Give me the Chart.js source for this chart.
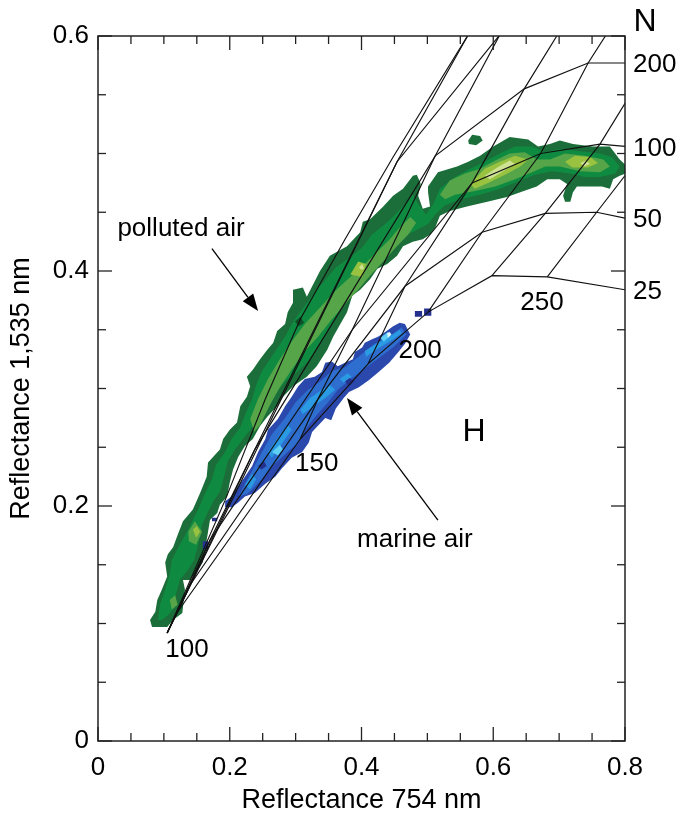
<!DOCTYPE html>
<html><head><meta charset="utf-8">
<script src="https://cdn.jsdelivr.net/npm/chart.js@4/dist/chart.umd.min.js"></script>
<style>html,body{margin:0;padding:0;background:#fff;}#wrap{width:678px;height:814px;}</style>
</head><body><div id="wrap"><canvas id="c" width="678" height="814"></canvas></div>
<script>
// ---------- axis ticks ----------
const xTicks = [0, 0.2, 0.4, 0.6, 0.8];
const yTicks = [0, 0.2, 0.4, 0.6];
const minorStep = 0.05;

// ---------- nomogram: constant-N curves ----------
const nNames = ['25', '50', '100', '200'];
const curveN25  = [[.105,.092],[.121,.110],[.307,.257],[.410,.321],[.501,.365],[.598,.396],[.682,.395],[.800,.384]];
const curveN50  = [[.105,.092],[.140,.133],[.334,.291],[.466,.387],[.583,.433],[.679,.449],[.757,.450],[.800,.445]];
const curveN100 = [[.105,.092],[.170,.171],[.386,.350],[.568,.475],[.672,.500],[.762,.508],[.800,.506]];
const curveN200 = [[.105,.092],[.238,.248],[.512,.498],[.647,.555],[.744,.577],[.800,.577]];
const curveN400 = [[.105,.092],[.454,.493],[.610,.601],[.615,.606]];
const curveN800 = [[.105,.092],[.193,.205],[.254,.291],[.307,.359],[.375,.427],[.448,.497],[.562,.601]];
// ---------- nomogram: constant-H lines ----------
const lineH125 = [[.121,.110],[.140,.133],[.170,.171],[.238,.248],[.454,.493],[.562,.601]];
const lineH150 = [[.307,.257],[.334,.291],[.386,.350],[.512,.498],[.610,.601]];
const lineH175 = [[.410,.321],[.466,.387],[.568,.475],[.647,.555],[.703,.606]];
const lineH200 = [[.501,.365],[.583,.433],[.672,.500],[.744,.577],[.777,.606]];
const lineH225 = [[.598,.396],[.679,.449],[.762,.508],[.808,.550]];
const lineH250 = [[.682,.395],[.757,.450],[.808,.487]];

// ---------- polluted air contours ----------
const greenOuter = [[.082,.097],[.079,.103],[.087,.110],[.090,.120],[.097,.129],[.105,.140],[.102,.152],[.106,.159],[.114,.165],[.120,.174],[.129,.187],[.144,.197],[.155,.211],[.165,.225],[.167,.237],[.175,.242],[.185,.248],[.190,.257],[.200,.265],[.211,.271],[.216,.285],[.226,.293],[.231,.302],[.226,.310],[.235,.316],[.246,.325],[.257,.333],[.266,.339],[.272,.349],[.284,.355],[.288,.365],[.296,.373],[.296,.384],[.311,.386],[.317,.378],[.337,.400],[.352,.413],[.378,.421],[.398,.433],[.402,.442],[.413,.444],[.433,.455],[.448,.464],[.463,.470],[.478,.481],[.484,.482],[.490,.474],[.486,.464],[.493,.453],[.504,.455],[.501,.467],[.501,.472],[.516,.484],[.545,.489],[.562,.493],[.580,.498],[.600,.506],[.625,.514],[.653,.512],[.668,.506],[.686,.508],[.701,.511],[.721,.508],[.751,.506],[.777,.506],[.792,.495],[.801,.490],[.801,.483],[.792,.481],[.782,.478],[.777,.470],[.765,.472],[.736,.472],[.727,.472],[.721,.467],[.717,.459],[.709,.459],[.706,.464],[.712,.474],[.701,.478],[.682,.478],[.666,.472],[.641,.467],[.621,.463],[.591,.459],[.560,.455],[.534,.451],[.519,.447],[.512,.437],[.504,.431],[.493,.427],[.478,.425],[.463,.421],[.454,.413],[.439,.406],[.424,.402],[.413,.393],[.398,.384],[.386,.379],[.378,.365],[.357,.344],[.348,.333],[.332,.319],[.317,.310],[.296,.302],[.281,.293],[.272,.285],[.257,.276],[.246,.268],[.235,.257],[.223,.251],[.213,.242],[.205,.231],[.200,.220],[.196,.208],[.185,.201],[.181,.194],[.170,.188],[.165,.171],[.159,.152],[.140,.137],[.129,.137],[.132,.129],[.129,.114],[.128,.109],[.114,.103],[.105,.097],[.094,.097]];
const greenIsle = [[.562,.511],[.568,.516],[.580,.515],[.584,.511],[.574,.507],[.563,.508]];
const greenMid = [[.091,.103],[.094,.116],[.102,.129],[.109,.142],[.112,.154],[.124,.167],[.137,.180],[.152,.197],[.162,.210],[.173,.223],[.179,.235],[.193,.246],[.203,.257],[.216,.267],[.225,.280],[.234,.291],[.240,.303],[.249,.315],[.261,.325],[.273,.335],[.284,.344],[.294,.355],[.304,.363],[.316,.372],[.331,.383],[.346,.393],[.361,.403],[.383,.412],[.401,.420],[.416,.431],[.436,.440],[.451,.448],[.466,.457],[.478,.465],[.486,.457],[.498,.448],[.509,.457],[.519,.470],[.542,.480],[.565,.487],[.587,.493],[.610,.500],[.633,.506],[.659,.506],[.679,.501],[.701,.504],[.732,.502],[.762,.500],[.780,.497],[.792,.489],[.785,.483],[.762,.480],[.739,.480],[.717,.483],[.689,.485],[.663,.482],[.641,.477],[.610,.470],[.580,.465],[.550,.461],[.527,.456],[.512,.448],[.501,.440],[.481,.434],[.461,.429],[.446,.420],[.428,.412],[.410,.403],[.395,.391],[.380,.380],[.367,.366],[.352,.352],[.337,.338],[.322,.325],[.304,.315],[.284,.306],[.269,.295],[.258,.286],[.243,.275],[.231,.265],[.220,.257],[.208,.248],[.197,.238],[.191,.224],[.185,.212],[.176,.205],[.167,.195],[.158,.184],[.152,.167],[.146,.154],[.137,.146],[.124,.137],[.118,.124],[.117,.114],[.106,.107],[.097,.103]];
const greenLight1 = [[.231,.274],[.243,.291],[.258,.308],[.276,.325],[.294,.340],[.314,.355],[.337,.369],[.360,.383],[.383,.395],[.405,.406],[.425,.417],[.443,.427],[.458,.437],[.474,.446],[.483,.441],[.471,.431],[.452,.420],[.433,.408],[.413,.396],[.395,.384],[.375,.372],[.355,.359],[.334,.344],[.314,.332],[.294,.316],[.276,.301],[.261,.286],[.246,.269],[.237,.263]];
const greenLight2 = [[.519,.465],[.534,.477],[.557,.483],[.580,.487],[.603,.494],[.625,.500],[.648,.501],[.666,.495],[.686,.495],[.709,.500],[.739,.498],[.767,.495],[.777,.489],[.762,.484],[.732,.485],[.701,.489],[.679,.489],[.659,.484],[.633,.478],[.603,.472],[.572,.468],[.542,.465],[.527,.461]];
const greenLight3 = [[.137,.178],[.147,.187],[.158,.178],[.149,.167],[.138,.170]];
const greenLight4 = [[.109,.120],[.117,.124],[.121,.116],[.112,.112]];
const greenLight5 = [[.264,.252],[.276,.263],[.291,.258],[.282,.248]];
const greenYellow1 = [[.383,.397],[.395,.408],[.407,.406],[.401,.395]];
const greenYellow2 = [[.565,.474],[.587,.487],[.610,.493],[.633,.498],[.653,.495],[.641,.489],[.618,.482],[.592,.475],[.572,.470]];
const greenYellow3 = [[.709,.493],[.724,.498],[.747,.497],[.759,.492],[.744,.488],[.720,.488]];
const greenYellow4 = [[.144,.180],[.150,.183],[.155,.178],[.149,.173]];
const greenPale1 = [[.587,.481],[.606,.488],[.625,.494],[.633,.491],[.615,.485],[.595,.478]];
const greenPale2 = [[.732,.492],[.741,.494],[.747,.491],[.738,.489]];
const greenPale3 = [[.396,.403],[.401,.406],[.404,.402],[.400,.401]];
const greenDeep1 = [[.299,.357],[.307,.361],[.313,.356],[.305,.353]];

// ---------- marine air contours ----------
const blueOuter = [[.193,.204],[.203,.208],[.213,.217],[.223,.225],[.234,.234],[.243,.246],[.254,.257],[.258,.265],[.273,.274],[.284,.285],[.294,.293],[.304,.302],[.314,.308],[.329,.310],[.340,.314],[.345,.322],[.355,.323],[.364,.319],[.375,.322],[.387,.325],[.390,.331],[.401,.335],[.405,.339],[.416,.342],[.425,.344],[.436,.348],[.448,.353],[.458,.356],[.466,.355],[.474,.346],[.466,.338],[.456,.331],[.442,.322],[.426,.314],[.411,.307],[.396,.301],[.381,.297],[.373,.292],[.361,.283],[.354,.273],[.345,.275],[.335,.269],[.325,.263],[.320,.254],[.310,.246],[.294,.241],[.279,.232],[.269,.225],[.254,.219],[.238,.211],[.223,.208],[.213,.203],[.203,.199],[.193,.199]];
const blueMid = [[.213,.208],[.231,.227],[.249,.246],[.264,.261],[.284,.275],[.301,.289],[.319,.299],[.337,.306],[.355,.315],[.375,.318],[.398,.328],[.420,.338],[.443,.345],[.461,.352],[.468,.346],[.450,.336],[.429,.327],[.405,.317],[.384,.308],[.364,.299],[.349,.288],[.333,.278],[.314,.265],[.302,.253],[.284,.244],[.265,.234],[.246,.221],[.226,.210]];
const blueLight1 = [[.405,.332],[.425,.339],[.443,.344],[.458,.350],[.461,.347],[.446,.341],[.425,.334],[.407,.327]];
const blueLight2 = [[.307,.282],[.322,.292],[.340,.299],[.352,.303],[.360,.299],[.345,.292],[.325,.284],[.311,.278]];
const blueLight3 = [[.258,.246],[.273,.258],[.288,.269],[.294,.265],[.279,.253],[.264,.241]];
const blueLight4 = [[.367,.308],[.379,.313],[.385,.310],[.373,.305]];
const blueLight5 = [[.223,.218],[.234,.227],[.240,.223],[.231,.214]];
const blueCyan1 = [[.428,.343],[.440,.348],[.446,.346],[.434,.340]];
const blueCyan2 = [[.264,.246],[.276,.252],[.281,.248],[.273,.243]];
const blueWhite1 = [[.439,.347],[.443,.348],[.445,.346],[.440,.343]];
const blueNavy1 = [[.375,.306],[.382,.309],[.389,.306],[.381,.302]];
const blueNavy2 = [[.243,.234],[.252,.238],[.256,.234],[.248,.231]];
const blueBit1 = [[.481,.366],[.492,.366],[.492,.361],[.481,.361]];
const blueBit2 = [[.495,.368],[.506,.368],[.506,.362],[.495,.362]];
const blueBit3 = [[.159,.170],[.167,.170],[.167,.163],[.159,.163]];
const blueBit4 = [[.173,.190],[.181,.190],[.181,.187],[.173,.187]];

// ---------- text annotations ----------
const notes = [
  {t:'polluted air', x:.126, y:.436, s:26},
  {t:'marine air',   x:.481, y:.171, s:26},
  {t:'H',            x:.571, y:.263, s:32},
  {t:'100',          x:.135, y:.078, s:26},
  {t:'150',          x:.332, y:.236, s:26},
  {t:'200',          x:.489, y:.332, s:26},
  {t:'250',          x:.674, y:.373, s:26}
];
const arrows = [
  {from:[.173,.419], to:[.243,.366]},
  {from:[.516,.188], to:[.378,.292]}
];

const FONT = '"Liberation Sans", Arial, Helvetica, sans-serif';
const C = {gDark:'#1b6e39', gMid:'#0f8b41', gLight:'#56a548', gYel:'#98c23f', gPale:'#cde293', gDeep:'#0e4f27',
           bOut:'#2b48ad', bMid:'#2d6ecf', bLight:'#2a9be3', bCyan:'#5fcff5', bWhite:'#e6f7ff', bNavy:'#24318e'};

const layers = [
  [greenOuter,C.gDark],[greenIsle,C.gDark],[greenMid,C.gMid],
  [greenLight1,C.gLight],[greenLight2,C.gLight],[greenLight3,C.gLight],[greenLight4,C.gLight],[greenLight5,C.gLight],
  [greenYellow1,C.gYel],[greenYellow2,C.gYel],[greenYellow3,C.gYel],[greenYellow4,C.gYel],
  [greenPale1,C.gPale],[greenPale2,C.gPale],[greenPale3,C.gPale],[greenDeep1,C.gDeep],
  [blueOuter,C.bOut],[blueMid,C.bMid],
  [blueLight1,C.bLight],[blueLight2,C.bLight],[blueLight3,C.bLight],[blueLight4,C.bLight],[blueLight5,C.bLight],
  [blueCyan1,C.bCyan],[blueCyan2,C.bCyan],[blueWhite1,C.bWhite],[blueNavy1,C.bNavy],[blueNavy2,C.bNavy],
  [blueBit1,C.bNavy],[blueBit2,C.bNavy],[blueBit3,C.bNavy],[blueBit4,C.bNavy]
];
const gridCurves = [curveN25,curveN50,curveN100,curveN200,curveN400,curveN800,lineH125,lineH150,lineH175,lineH200,lineH225,lineH250];
const labelledN = [curveN25,curveN50,curveN100,curveN200];

const toPts = a => a.map(p => ({x:p[0], y:p[1]}));
const datasets = [];
layers.forEach(([arr,col]) => datasets.push({data:toPts(arr), backgroundColor:col, borderColor:'rgba(0,0,0,0)', borderWidth:0, fill:'shape', pointRadius:0, tension:0}));
gridCurves.forEach(arr => datasets.push({data:toPts(arr), borderColor:'#111', borderWidth:1.15, fill:false, pointRadius:0, tension:0}));
datasets.forEach((d,i) => d.order = datasets.length - i);

const overlay = {
  id:'overlay',
  afterDatasetsDraw(chart){
    const {ctx, chartArea:a, scales:{x, y}} = chart;
    ctx.save();
    const seg = (x1,y1,x2,y2) => {ctx.beginPath(); ctx.moveTo(x1,y1); ctx.lineTo(x2,y2); ctx.stroke();};
    ctx.strokeStyle = '#222'; ctx.lineWidth = 1.3;
    const nx = Math.round((x.max - x.min)/minorStep);
    for (let i=0;i<=nx;i++){
      const v = x.min + i*minorStep, p = x.getPixelForValue(v);
      const L = xTicks.some(t => Math.abs(t-v)<1e-9) ? 14 : 8;
      seg(p,a.bottom,p,a.bottom-L); seg(p,a.top,p,a.top+L);
    }
    const ny = Math.round((y.max - y.min)/minorStep);
    for (let i=0;i<=ny;i++){
      const v = y.min + i*minorStep, p = y.getPixelForValue(v);
      const L = yTicks.some(t => Math.abs(t-v)<1e-9) ? 14 : 8;
      seg(a.left,p,a.left+L,p); seg(a.right,p,a.right-L,p);
    }
    ctx.lineWidth = 1.5;
    ctx.strokeRect(a.left,a.top,a.right-a.left,a.bottom-a.top);
    // arrows
    ctx.strokeStyle = '#000'; ctx.fillStyle = '#000'; ctx.lineWidth = 1.3;
    arrows.forEach(ar => {
      const x0 = x.getPixelForValue(ar.from[0]), y0 = y.getPixelForValue(ar.from[1]);
      const x1 = x.getPixelForValue(ar.to[0]),   y1 = y.getPixelForValue(ar.to[1]);
      const ang = Math.atan2(y1-y0, x1-x0), hl = 17, hw = 6.5;
      const bx = x1 - hl*Math.cos(ang), by = y1 - hl*Math.sin(ang);
      seg(x0,y0,bx,by);
      ctx.beginPath(); ctx.moveTo(x1,y1);
      ctx.lineTo(bx + hw*Math.sin(ang), by - hw*Math.cos(ang));
      ctx.lineTo(bx - hw*Math.sin(ang), by + hw*Math.cos(ang));
      ctx.closePath(); ctx.fill();
    });
    // notes
    ctx.textAlign = 'center'; ctx.textBaseline = 'middle';
    notes.forEach(n => { ctx.font = n.s + 'px ' + FONT; ctx.fillText(n.t, x.getPixelForValue(n.x), y.getPixelForValue(n.y)); });
    // N labels on right
    ctx.font = '26px ' + FONT; ctx.textAlign = 'left';
    labelledN.forEach((c,i) => { const last = c[c.length-1]; ctx.fillText(nNames[i], a.right+8, y.getPixelForValue(last[1])+2); });
    ctx.font = '32px ' + FONT; ctx.textAlign = 'center';
    ctx.fillText('N', a.right+20, y.getPixelForValue(0.612));
    ctx.restore();
  }
};

new Chart(document.getElementById('c'), {
  type:'line',
  data:{datasets},
  options:{
    responsive:false, animation:false, devicePixelRatio:1,
    layout:{padding:{top:36, right:53, left:0, bottom:0}},
    plugins:{legend:{display:false}, tooltip:{enabled:false}},
    scales:{
      x:{type:'linear', min:0, max:0.8,
         afterFit(s){ s.height = 73; },
         afterBuildTicks(s){ s.ticks = xTicks.map(v => ({value:v})); },
         grid:{display:false, drawTicks:false, tickLength:0}, border:{display:false},
         ticks:{padding:11, color:'#000', autoSkip:false, maxRotation:0, font:{family:FONT, size:26},
                callback:v => v===0 ? '0' : v.toFixed(1)},
         title:{display:true, text:'Reflectance 754 nm', color:'#000', font:{family:FONT, size:27, lineHeight:1}, padding:{top:0, bottom:0}}},
      y:{type:'linear', min:0, max:0.6,
         afterFit(s){ s.width = 98; },
         afterBuildTicks(s){ s.ticks = yTicks.map(v => ({value:v})); },
         grid:{display:false, drawTicks:false, tickLength:0}, border:{display:false},
         ticks:{padding:9, color:'#000', autoSkip:false, font:{family:FONT, size:26},
                callback:v => v===0 ? '0' : v.toFixed(1)},
         title:{display:true, text:'Reflectance 1,535 nm', color:'#000', font:{family:FONT, size:27, lineHeight:1}, padding:{top:8.5, bottom:0}}}
    }
  },
  plugins:[overlay]
});
</script></body></html>
